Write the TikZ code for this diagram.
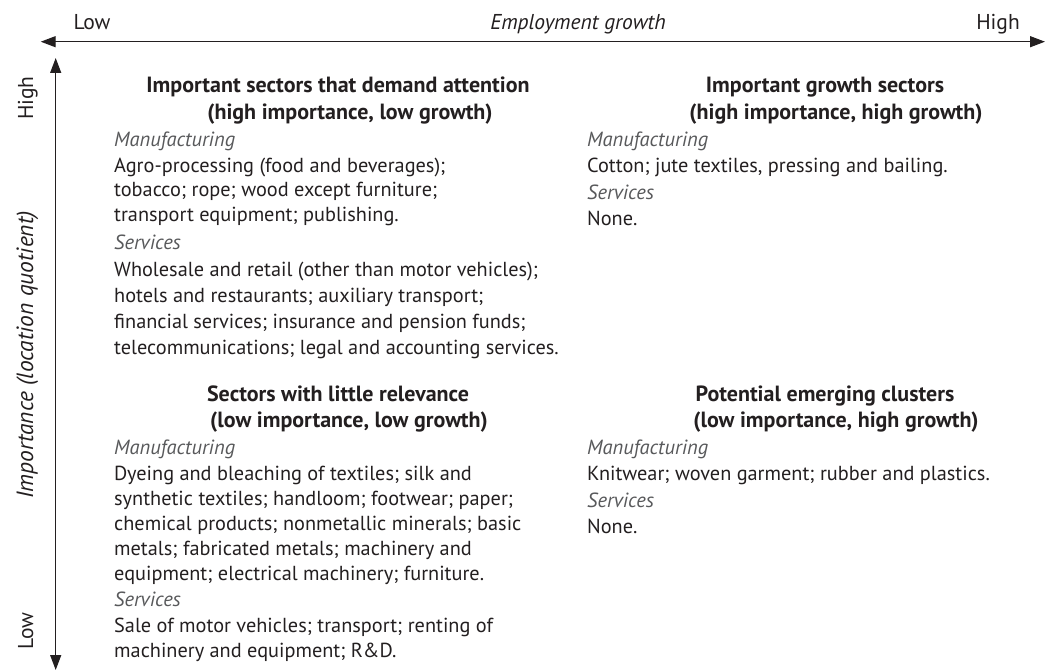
\documentclass[tikz,border=0pt]{standalone}
\usepackage{fontspec}
\setmainfont{PT Sans}
\usetikzlibrary{arrows.meta}
\definecolor{txt}{HTML}{231F20}
\definecolor{lbl}{HTML}{58595B}
\begin{document}
\begin{tikzpicture}[x=1pt,y=-1pt,
  axis/.style={line width=1.3pt, draw=txt, {Triangle[length=15pt,width=11pt]}-{Triangle[length=15pt,width=11pt]}},
  body/.style={anchor=base west, inner sep=0pt, text=txt, font=\fontsize{20.3}{24}\selectfont},
  cat/.style={anchor=base west, inner sep=0pt, text=lbl, font=\fontsize{20.5}{24}\selectfont\itshape},
  head/.style={anchor=base, inner sep=0pt, text=txt, font=\fontsize{22}{26}\selectfont\bfseries},
  axlbl/.style={anchor=base, inner sep=0pt, text=txt, font=\fontsize{21.5}{24}\selectfont},
  axit/.style={anchor=base, inner sep=0pt, text=txt, font=\fontsize{21.5}{24}\selectfont\itshape}]
\useasboundingbox (0,0) rectangle (1045,671);
% axes
\coordinate (hl) at (40.7,41.7);
\coordinate (hr) at (1045,41.7);
\coordinate (vt) at (55.7,58);
\coordinate (vb) at (55.7,670);
\draw[axis] (hl) -- (hr);
\draw[axis] (vt) -- (vb);
% axis labels
\node[axlbl] (xlow) at (92,30) {Low};
\node[axit] (xmid) at (578,30) {Employment growth};
\node[axlbl] (xhigh) at (998,30) {High};
\node[axlbl, rotate=90] (yhigh) at (33,98) {High};
\node[axit, rotate=90, font=\fontsize{23.5}{26}\selectfont\itshape] (ymid) at (33,355) {Importance (location quotient)};
\node[axlbl, rotate=90] (ylow) at (33,631) {Low};
% top-left quadrant
\node[head] (tlh1) at (338,93) {Important sectors that demand attention};
\node[head] (tlh2) at (350,120) {(high importance, low growth)};
\node[cat] (tlm) at (114,147) {Manufacturing};
\node[body] (tl1) at (114,173) {Agro-processing (food and beverages);};
\node[body] (tl2) at (114,197) {tobacco; rope; wood except furniture;};
\node[body] (tl3) at (114,222) {transport equipment; publishing.};
\node[cat] (tls) at (114,250) {Services};
\node[body] (tl4) at (114,277) {Wholesale and retail (other than motor vehicles);};
\node[body] (tl5) at (114,303) {hotels and restaurants; auxiliary transport;};
\node[body] (tl6) at (114,328) {financial services; insurance and pension funds;};
\node[body] (tl7) at (114,354) {telecommunications; legal and accounting services.};
% top-right quadrant
\node[head] (trh1) at (825,93) {Important growth sectors};
\node[head] (trh2) at (836,120) {(high importance, high growth)};
\node[cat] (trm) at (587,147) {Manufacturing};
\node[body] (tr1) at (587,173) {Cotton; jute textiles, pressing and bailing.};
\node[cat] (trs) at (587,200) {Services};
\node[body] (tr2) at (587,226) {None.};
% bottom-left quadrant
\node[head] (blh1) at (338,401) {Sectors with little relevance};
\node[head] (blh2) at (349,427) {(low importance, low growth)};
\node[cat] (blm) at (114,454) {Manufacturing};
\node[body] (bl1) at (114,480) {Dyeing and bleaching of textiles; silk and};
\node[body] (bl2) at (114,505) {synthetic textiles; handloom; footwear; paper;};
\node[body] (bl3) at (114,530) {chemical products; nonmetallic minerals; basic};
\node[body] (bl4) at (114,555) {metals; fabricated metals; machinery and};
\node[body] (bl5) at (114,580) {equipment; electrical machinery; furniture.};
\node[cat] (bls) at (114,606) {Services};
\node[body] (bl6) at (114,632) {Sale of motor vehicles; transport; renting of};
\node[body] (bl7) at (114,657) {machinery and equipment; R\&D.};
% bottom-right quadrant
\node[head] (brh1) at (825,401) {Potential emerging clusters};
\node[head] (brh2) at (836,427) {(low importance, high growth)};
\node[cat] (brm) at (587,454) {Manufacturing};
\node[body] (br1) at (587,480) {Knitwear; woven garment; rubber and plastics.};
\node[cat] (brs) at (587,507) {Services};
\node[body] (br2) at (587,533) {None.};
\end{tikzpicture}
\end{document}
